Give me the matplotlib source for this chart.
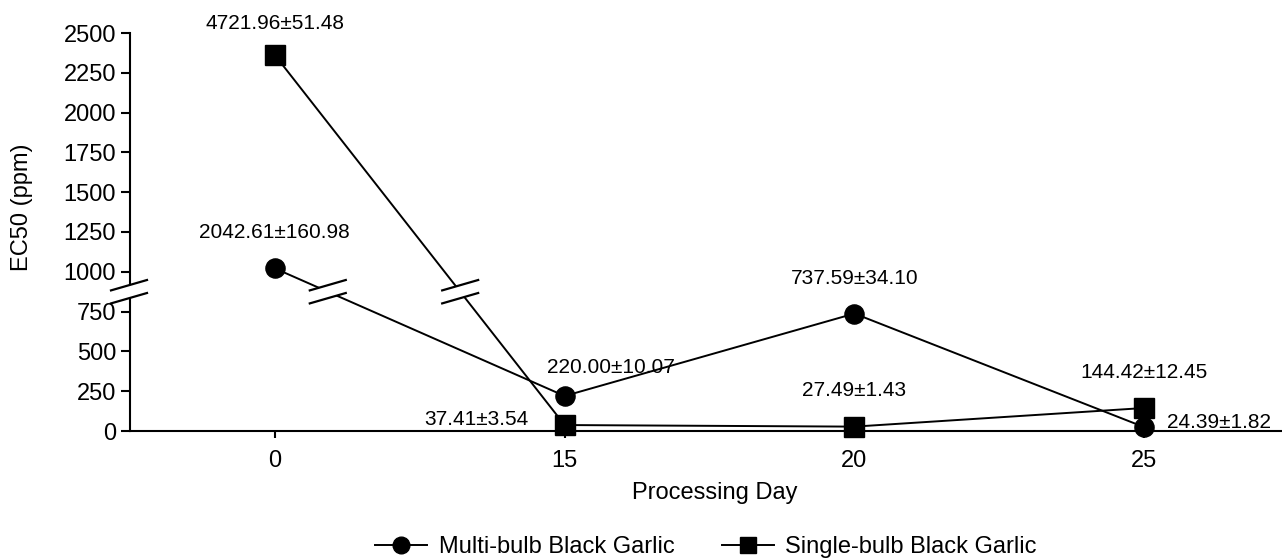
import numpy as np
import matplotlib
matplotlib.use("Agg")
import matplotlib.pyplot as plt
from matplotlib.lines import Line2D
from matplotlib.patches import Polygon

plt.rcParams["font.family"] = ["Liberation Sans", "DejaVu Sans"]

# Processing days and EC50 results (mean ± SD, ppm)
days = ["0", "15", "20", "25"]
multi_mean = [2042.61, 220.00, 737.59, 24.39]
multi_sd = [160.98, 10.07, 34.10, 1.82]
single_mean = [4721.96, 37.41, 27.49, 144.42]
single_sd = [51.48, 3.54, 1.43, 12.45]

# y-axis ticks (data value -> printed label)
ytick_values = [0, 250, 500, 750, 2000, 2500, 3000, 3500, 4000, 4500, 5000]
ytick_labels = ["0", "250", "500", "750", "1000", "1250", "1500",
                "1750", "2000", "2250", "2500"]

# broken axis: linear up to BREAK, compressed by half above 2*BREAK
BREAK = 875.0


def forward(v):
    v = np.asarray(v, dtype=float)
    return np.where(v <= BREAK, v, np.where(v >= 2 * BREAK, v / 2.0, BREAK))


def inverse(p):
    p = np.asarray(p, dtype=float)
    return np.where(p <= BREAK, p, 2.0 * p)


W, H, DPI = 1282, 558, 100
fig = plt.figure(figsize=(W / DPI, H / DPI), dpi=DPI)
ax = fig.add_axes([130 / W, 127 / H, 1159 / W, 398 / H])
ax.set_yscale("function", functions=(forward, inverse))

x = np.arange(len(days))
lw = 1.4
ax.plot(x, multi_mean, color="black", lw=lw, marker="o", ms=13.8,
        mfc="black", mec="black", clip_on=False, zorder=3)
ax.plot(x, single_mean, color="black", lw=lw, marker="s", ms=13.8,
        mfc="black", mec="black", clip_on=False, zorder=3)

ax.set_xlim(-0.5, 3.5)
ax.set_ylim(0, 5000)
ax.set_xticks(x)
ax.set_xticklabels(days)
ax.set_yticks(ytick_values)
ax.set_yticklabels(ytick_labels)

for s in ("top", "right"):
    ax.spines[s].set_visible(False)
for s in ("left", "bottom"):
    ax.spines[s].set_linewidth(1.5)
ax.tick_params(axis="y", direction="out", length=6.5, width=1.5,
               labelsize=17, pad=3.5)
ax.tick_params(axis="x", direction="out", length=5, width=1.5,
               labelsize=17, pad=9)

ax.set_xlabel("Processing Day", fontsize=17)
ax.xaxis.set_label_coords((715 - 130) / 1159, -(493 - 431) / 398)
ax.xaxis.label.set_verticalalignment("center")
ax.set_ylabel("EC50 (ppm)", fontsize=17)
ax.yaxis.set_label_coords(-(130 - 22) / 1159, (431 - 207) / 398)
ax.yaxis.label.set_verticalalignment("center")

# value labels (offsets in pixels from each marker, to the text baseline)
multi_offsets = [(0, 30), (46, 23), (0, 30), (75, -1)]
single_offsets = [(0, 26), (-88, 0), (0, 31), (0, 30)]
for i in range(len(days)):
    ax.annotate(f"{multi_mean[i]:.2f}\u00b1{multi_sd[i]:.2f}",
                (x[i], multi_mean[i]), xytext=multi_offsets[i],
                textcoords="offset pixels", ha="center", va="baseline",
                fontsize=15, zorder=6)
    ax.annotate(f"{single_mean[i]:.2f}\u00b1{single_sd[i]:.2f}",
                (x[i], single_mean[i]), xytext=single_offsets[i],
                textcoords="offset pixels", ha="center", va="baseline",
                fontsize=15, zorder=6)

# break marks (drawn in pixel space, then mapped to figure fraction)
to_fig = fig.transFigure.inverted()


def break_mark(cx, cy, half=18, sep=6.5, rise=5.2):
    corners = [(cx - half, cy - sep - rise), (cx + half, cy - sep + rise),
               (cx + half, cy + sep + rise), (cx - half, cy + sep - rise)]
    poly = Polygon(to_fig.transform(corners), closed=True, fc="white",
                   ec="none", transform=fig.transFigure, zorder=8)
    fig.add_artist(poly)
    for sgn in (-1, 1):
        pts = to_fig.transform([(cx - half, cy + sgn * sep - rise),
                                (cx + half, cy + sgn * sep + rise)])
        fig.add_artist(Line2D(pts[:, 0], pts[:, 1], color="black", lw=1.6,
                              transform=fig.transFigure, zorder=9))


fig.canvas.draw()
td = ax.transData
y_break = td.transform((0, BREAK))[1]
# on the y axis
x_axis = td.transform((-0.5, 0))[0]
break_mark(x_axis - 1, y_break)
# on each series between day 0 and day 15
for series in (multi_mean, single_mean):
    p0 = td.transform((x[0], series[0]))
    p1 = td.transform((x[1], series[1]))
    t = (p0[1] - y_break) / (p0[1] - p1[1])
    break_mark(p0[0] + t * (p1[0] - p0[0]), y_break)

handles = [
    Line2D([], [], color="black", lw=lw, marker="o", ms=12, mfc="black"),
    Line2D([], [], color="black", lw=lw, marker="s", ms=12, mfc="black"),
]
fig.legend(handles, ["Multi-bulb Black Garlic", "Single-bulb Black Garlic"],
           loc="center", bbox_to_anchor=(706 / W, (H - 547) / H), ncol=2,
           frameon=False, fontsize=17, handlelength=2.2, handletextpad=0.5,
           columnspacing=2.0, borderpad=0)

fig.savefig("out.png", dpi=DPI)
